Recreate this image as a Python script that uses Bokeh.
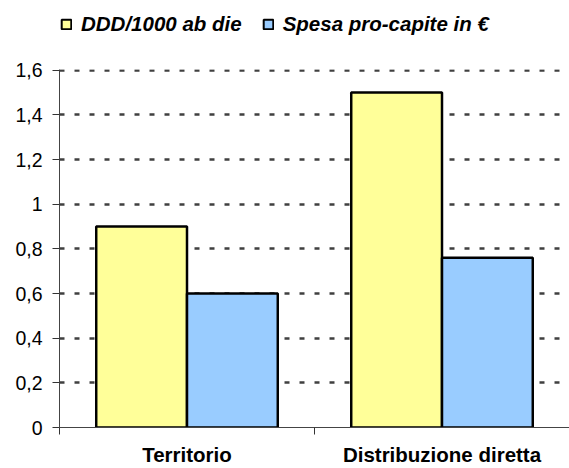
from bokeh.plotting import figure
from bokeh.layouts import column
from bokeh.models import ColumnDataSource, Range1d, FixedTicker, Legend, LegendItem
from bokeh.transform import dodge
from bokeh.embed import file_html
from bokeh.resources import INLINE

categories = ["Territorio", "Distribuzione diretta"]
ddd = [0.9, 1.5]
spesa = [0.6, 0.76]
series_names = ["DDD/1000 ab die", "Spesa pro-capite in €"]
y_ticks = [0, 0.2, 0.4, 0.6, 0.8, 1.0, 1.2, 1.4, 1.6]
y_tick_labels = ["0", "0,2", "0,4", "0,6", "0,8", "1", "1,2", "1,4", "1,6"]

FONT = "Liberation Sans"
YELLOW = "#FFFF99"
BLUE = "#99CCFF"

xpos = [i + 0.5 for i in range(len(categories))]
src = ColumnDataSource(dict(x=xpos, ddd=ddd, spesa=spesa))

# ---- main chart ----
p = figure(width=569, height=412, output_backend="svg", toolbar_location=None,
           x_range=Range1d(0, len(categories)), y_range=Range1d(0, 1.603),
           min_border_left=59, min_border_right=0, min_border_top=13, min_border_bottom=0)
p.outline_line_color = None
p.background_fill_color = "white"
p.border_fill_color = "white"

p.vbar(x=dodge("x", -0.178), top="ddd", width=0.356, source=src,
       fill_color=YELLOW, line_color="black", line_width=2.5)
p.vbar(x=dodge("x", 0.178), top="spesa", width=0.356, source=src,
       fill_color=BLUE, line_color="black", line_width=2.5)

p.yaxis.ticker = FixedTicker(ticks=y_ticks)
p.yaxis.major_label_overrides = {t: l for t, l in zip(y_ticks, y_tick_labels)}
p.yaxis.major_tick_out = 7
p.yaxis.major_tick_in = 0
p.yaxis.minor_tick_line_color = None
p.yaxis.axis_line_color = "#444444"
p.yaxis.major_tick_line_color = "#333333"
p.yaxis.major_label_text_font = FONT
p.yaxis.major_label_text_font_size = "19.5px"
p.yaxis.major_label_text_color = "black"
p.yaxis.major_label_standoff = 10

p.xaxis.ticker = FixedTicker(ticks=xpos, minor_ticks=list(range(len(categories) + 1)))
p.xaxis.major_label_overrides = {x: c for x, c in zip(xpos, categories)}
p.xaxis.major_tick_line_color = None
p.xaxis.minor_tick_line_color = "#333333"
p.xaxis.minor_tick_out = 7
p.xaxis.minor_tick_in = 0
p.xaxis.axis_line_color = "#444444"
p.xaxis.major_label_text_font = FONT
p.xaxis.major_label_text_font_size = "20.5px"
p.xaxis.major_label_text_font_style = "bold"
p.xaxis.major_label_text_color = "black"
p.xaxis.major_label_standoff = 8

p.xgrid.grid_line_color = None
p.ygrid.ticker = FixedTicker(ticks=y_ticks[1:])
p.ygrid.grid_line_color = "#404040"
p.ygrid.grid_line_width = 2.5
p.ygrid.grid_line_dash = "5 10"

# ---- legend strip ----
lg = figure(width=569, height=56, output_backend="svg", toolbar_location=None,
            x_range=Range1d(0, 1), y_range=Range1d(0, 1),
            min_border=0, x_axis_type=None, y_axis_type=None)
lg.outline_line_color = None
lg.xgrid.grid_line_color = None
lg.ygrid.grid_line_color = None
g1 = lg.vbar(x="x", top="ddd", width=0.1, source=src,
             fill_color=YELLOW, line_color="black", line_width=2, visible=False)
g2 = lg.vbar(x="x", top="spesa", width=0.1, source=src,
             fill_color=BLUE, line_color="black", line_width=2, visible=False)

legend = Legend(items=[LegendItem(label=series_names[0], renderers=[g1]),
                       LegendItem(label=series_names[1], renderers=[g2])],
                orientation="horizontal", location=(1, 20),
                glyph_width=12, glyph_height=12, label_standoff=9, spacing=20,
                padding=0, margin=0, border_line_color=None,
                background_fill_alpha=0,
                label_text_font=FONT, label_text_font_size="20.5px",
                label_text_font_style="bold italic", label_text_color="black")
lg.add_layout(legend)

layout = column(lg, p, spacing=0)
open("out.html", "w").write(file_html(layout, INLINE))
